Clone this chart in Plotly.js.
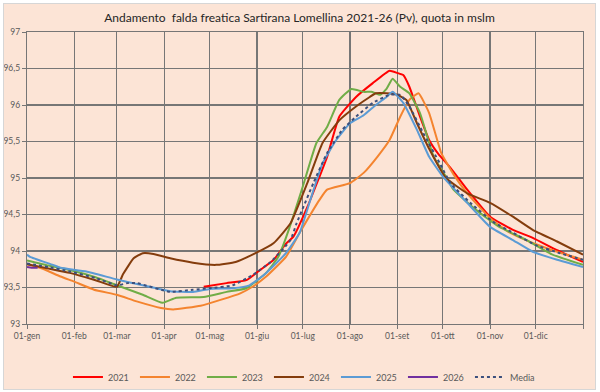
<!DOCTYPE html>
<html>
<head>
<meta charset="utf-8">
<script src="https://cdn.plot.ly/plotly-3.0.1.min.js"></script>
<style>
html,body{margin:0;padding:0;background:#ffffff;width:600px;height:392px;overflow:hidden;}
#frame{position:absolute;left:3px;top:3px;width:593px;height:387px;border:1px solid #d6d6d6;box-sizing:border-box;background:#fce4d6;}
#chart{position:absolute;left:0;top:0;width:591px;height:385px;}
</style>
</head>
<body>
<div id="frame"><div id="chart"></div></div>
<script>
// Month tick positions (day of year) and labels
const monthDays = [0, 31, 59, 90, 120, 151, 181, 212, 243, 273, 304, 334, 365];
const monthLabels = ["01-gen","01-feb","01-mar","01-apr","01-mag","01-giu","01-lug","01-ago","01-set","01-ott","01-nov","01-dic",""];
const yTicks = [93, 93.5, 94, 94.5, 95, 95.5, 96, 96.5, 97];

// 2021
const days2021 = [116,131,144,153,162,170,175,184,197,205,216,227,238,243,247,251,258,264,270,278,289,304,319,332,348,365];
const vals2021 = [93.51,93.56,93.60,93.74,93.88,94.10,94.20,94.60,95.29,95.84,96.11,96.30,96.47,96.44,96.41,96.25,95.84,95.52,95.33,95.14,94.84,94.47,94.29,94.18,94.01,93.85];
// 2022
const days2022 = [0,10,22,31,44,59,72,88,96,114,127,140,148,157,170,179,192,197,212,221,230,238,245,251,257,264,272,280,289,304,317,332,348,365];
const vals2022 = [93.82,93.76,93.65,93.58,93.47,93.40,93.31,93.22,93.20,93.25,93.33,93.42,93.51,93.65,93.92,94.25,94.70,94.84,94.93,95.07,95.29,95.52,95.84,96.07,96.16,95.89,95.34,95.05,94.79,94.45,94.25,94.11,93.99,93.88];
// 2023
const days2023 = [0,14,28,45,59,76,89,98,116,131,144,157,165,172,181,190,197,205,213,221,226,232,236,240,245,251,258,264,267,275,280,295,310,328,345,365];
const vals2023 = [93.87,93.80,93.74,93.64,93.53,93.40,93.29,93.36,93.37,93.44,93.49,93.70,93.92,94.30,94.88,95.48,95.70,96.07,96.22,96.18,96.18,96.14,96.22,96.36,96.25,96.16,95.89,95.48,95.29,95.02,94.84,94.56,94.33,94.15,93.95,93.81];
// 2024
const days2024 = [0,14,28,45,59,63,70,76,83,94,109,124,137,148,162,173,184,194,205,216,225,229,236,243,249,256,264,275,289,304,319,332,348,365];
const vals2024 = [93.82,93.76,93.70,93.60,93.51,93.68,93.90,93.97,93.96,93.90,93.84,93.81,93.85,93.95,94.11,94.38,94.93,95.48,95.79,95.98,96.11,96.16,96.16,96.14,96.07,95.75,95.40,95.00,94.79,94.66,94.47,94.29,94.13,93.95];
// 2025
const days2025 = [0,2,17,22,39,59,76,94,109,120,135,146,157,170,179,186,194,203,212,221,229,236,240,247,256,264,273,289,304,319,332,348,365];
const vals2025 = [93.95,93.92,93.81,93.77,93.72,93.61,93.53,93.45,93.44,93.48,93.49,93.53,93.70,93.97,94.25,94.70,95.20,95.52,95.75,95.86,96.00,96.11,96.18,96.03,95.66,95.29,95.02,94.66,94.33,94.15,93.99,93.88,93.78];
// 2026
const days2026 = [0,3,7];
const vals2026 = [93.78,93.77,93.77];
// Media
const daysMedia = [0,14,28,45,59,66,72,94,109,120,135,148,160,173,177,188,197,207,216,227,238,245,251,260,271,278,291,306,319,334,350,365];
const valsMedia = [93.83,93.78,93.72,93.63,93.53,93.56,93.56,93.44,93.47,93.49,93.53,93.67,93.85,94.15,94.38,94.93,95.34,95.66,95.84,96.03,96.14,96.14,95.98,95.62,95.20,94.93,94.66,94.40,94.25,94.08,93.97,93.88];

const seriesNames = ["2021","2022","2023","2024","2025","2026","Media"];
const seriesColors = ["#ff0000","#f4842f","#70ad47","#843c0c","#5b9bd5","#7030a0","#3b4f7d"];
const seriesX = [days2021,days2022,days2023,days2024,days2025,days2026,daysMedia];
const seriesY = [vals2021,vals2022,vals2023,vals2024,vals2025,vals2026,valsMedia];

const traces = seriesNames.map((n,i)=>({
  x: seriesX[i], y: seriesY[i], name: n, type:'scatter', mode:'lines',
  line:{color:seriesColors[i], width:2, dash: n==="Media" ? 'dot' : 'solid', shape:'spline', smoothing:0.4},
  hoverinfo:'skip'
}));

const gridCol = '#767676';
const layout = {
  width:591, height:385,
  paper_bgcolor:'rgba(0,0,0,0)', plot_bgcolor:'rgba(0,0,0,0)',
  margin:{l:23,r:12,t:28,b:65, autoexpand:false},
  separators:', ',
  font:{family:'Lato, "Liberation Sans", sans-serif', color:'#595959'},
  title:{text:'Andamento  falda freatica Sartirana Lomellina 2021-26 (Pv), quota in mslm',
    font:{family:'Lato, sans-serif', size:12, color:'#262626'},
    xref:'container', x:0.5, xanchor:'center', yref:'container', y:0.963, yanchor:'middle'},
  xaxis:{range:[0,365], tickmode:'array', tickvals:monthDays, ticktext:monthLabels,
    showgrid:true, gridcolor:gridCol, gridwidth:1.2, showline:true, linecolor:gridCol, linewidth:1.2,
    mirror:true, ticks:'outside', ticklen:4, tickcolor:gridCol, zeroline:false,
    tickfont:{size:8.5, color:'#595959'}, fixedrange:true, automargin:false},
  yaxis:{range:[93,97], tickmode:'array', tickvals:yTicks,
    showgrid:true, gridcolor:gridCol, gridwidth:1.2, showline:true, linecolor:gridCol, linewidth:1.2,
    mirror:true, ticks:'outside', ticklen:4, tickcolor:gridCol, zeroline:false,
    tickfont:{size:8.5, color:'#595959'}, fixedrange:true, automargin:false},
  showlegend:true,
  legend:{orientation:'h', xref:'container', x:0.505, xanchor:'center', yref:'container', y:0.031, yanchor:'middle',
    font:{size:9, color:'#595959'}, itemwidth:30, entrywidth:22, entrywidthmode:'pixels', bgcolor:'rgba(0,0,0,0)'}
};
Plotly.newPlot('chart', traces, layout, {displayModeBar:false, staticPlot:true});
</script>
</body>
</html>
